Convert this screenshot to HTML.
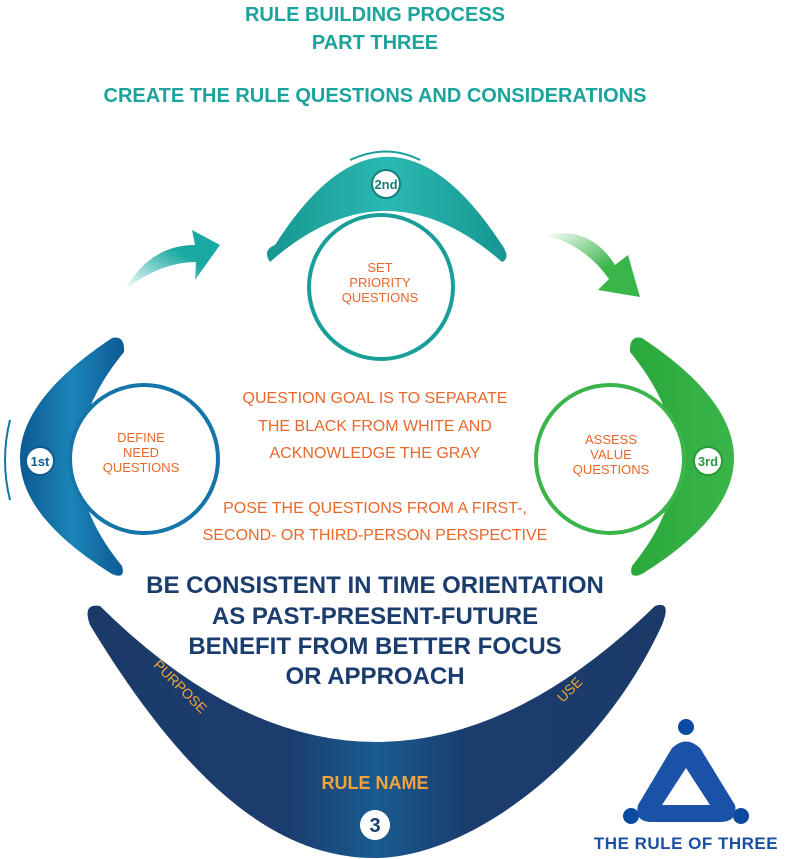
<!DOCTYPE html>
<html><head><meta charset="utf-8"><style>
body{margin:0;background:#fff}
svg{display:block}
text{font-family:"Liberation Sans",sans-serif}
</style></head><body>
<svg width="800" height="859" viewBox="0 0 800 859" xmlns="http://www.w3.org/2000/svg">
<defs>
<linearGradient id="gb" x1="0" y1="0" x2="1" y2="0"><stop offset="0" stop-color="#0d5a93"/><stop offset="0.5" stop-color="#1a84b8"/><stop offset="1" stop-color="#0d5a93"/></linearGradient>
<linearGradient id="gt" x1="0" y1="0" x2="1" y2="0"><stop offset="0" stop-color="#169690"/><stop offset="0.5" stop-color="#2bb8b2"/><stop offset="1" stop-color="#169690"/></linearGradient>
<linearGradient id="gg" x1="0" y1="0" x2="1" y2="0"><stop offset="0" stop-color="#3ab54a"/><stop offset="1" stop-color="#2aa83c"/></linearGradient>
<linearGradient id="gn" x1="0" y1="0" x2="1" y2="0"><stop offset="0" stop-color="#1b3a68"/><stop offset="0.35" stop-color="#1b3d6e"/><stop offset="0.5" stop-color="#1a5b90"/><stop offset="0.65" stop-color="#1b3d6e"/><stop offset="1" stop-color="#1b3a68"/></linearGradient>
<linearGradient id="at" x1="0" y1="1" x2="1" y2="0"><stop offset="0" stop-color="#fff"/><stop offset="0.6" stop-color="#1aa9a2"/></linearGradient>
<linearGradient id="ag" x1="0" y1="0" x2="1" y2="1"><stop offset="0" stop-color="#fff"/><stop offset="0.6" stop-color="#3ab54a"/></linearGradient>
</defs>

<text x="375" y="21" text-anchor="middle" font-size="20" font-weight="bold" fill="#1ba39c">RULE BUILDING PROCESS</text>
<text x="375" y="49" text-anchor="middle" font-size="20" font-weight="bold" fill="#1ba39c">PART THREE</text>
<text x="375" y="102" text-anchor="middle" font-size="20" font-weight="bold" fill="#1ba39c">CREATE THE RULE QUESTIONS AND CONSIDERATIONS</text>

<!-- arrows -->
<path d="M125,290 Q150,245 195,245 L192,230 L220,245 L195,280 L196,262 Q160,262 125,290 Z" fill="url(#at)"/>
<path d="M545,235 Q590,225 615,265 L628,255 L640,297 L598,290 L609,279 Q585,245 545,235 Z" fill="url(#ag)"/>

<!-- top boomerang -->
<path d="M270,262 Q262,250 275,245 Q386,70 500,242 Q512,258 502,262 Q386,160 270,262 Z" fill="url(#gt)"/>
<circle cx="381" cy="287" r="72" fill="#fff" stroke="#1a9e98" stroke-width="4"/>
<circle cx="386" cy="184" r="14" fill="#fff" stroke="#157f7a" stroke-width="2"/>
<text x="386" y="189" text-anchor="middle" font-size="13" font-weight="bold" fill="#157f7a">2nd</text>
<path d="M350,160 Q386,143 420,160" fill="none" stroke="#1a9e98" stroke-width="2"/>

<!-- left boomerang -->
<path d="M112,338 Q125,335 124,352 Q35,460 122,566 Q126,580 112,574 Q-72,460 112,338 Z" fill="url(#gb)"/>
<circle cx="144" cy="459" r="74" fill="#fff" stroke="#1575a8" stroke-width="4"/>
<circle cx="40" cy="461" r="14" fill="#fff" stroke="#0f5a90" stroke-width="2"/>
<text x="40" y="466" text-anchor="middle" font-size="13" font-weight="bold" fill="#0f5a90">1st</text>
<path d="M10,420 Q0,460 10,500" fill="none" stroke="#1575a8" stroke-width="2"/>

<!-- right boomerang -->
<g transform="translate(754,0) scale(-1,1)">
<path d="M112,338 Q125,335 124,352 Q35,460 122,566 Q126,580 112,574 Q-72,460 112,338 Z" fill="url(#gg)"/>
<circle cx="144" cy="459" r="74" fill="#fff" stroke="#3ab54a" stroke-width="4"/>
</g>
<circle cx="708" cy="461" r="14" fill="#fff" stroke="#2a9a3a" stroke-width="2"/>
<text x="708" y="466" text-anchor="middle" font-size="13" font-weight="bold" fill="#2a9a3a">3rd</text>

<g font-size="13" fill="#e8682a" text-anchor="middle">
<text x="141" y="442">DEFINE</text><text x="141" y="457">NEED</text><text x="141" y="472">QUESTIONS</text>
<text x="380" y="272">SET</text><text x="380" y="287">PRIORITY</text><text x="380" y="302">QUESTIONS</text>
<text x="611" y="444">ASSESS</text><text x="611" y="459">VALUE</text><text x="611" y="474">QUESTIONS</text>
</g>
<g font-size="16" fill="#e8682a" text-anchor="middle">
<text x="375" y="403">QUESTION GOAL IS TO SEPARATE</text>
<text x="375" y="431">THE BLACK FROM WHITE AND</text>
<text x="375" y="458">ACKNOWLEDGE THE GRAY</text>
<text x="375" y="513">POSE THE QUESTIONS FROM A FIRST-,</text>
<text x="375" y="540">SECOND- OR THIRD-PERSON PERSPECTIVE</text>
</g>

<!-- bottom boomerang -->
<path d="M100,606 Q375,878 655,606 Q672,600 662,625 C600,760 470,858 375,858 C280,858 190,790 90,625 Q82,603 100,606 Z" fill="url(#gn)"/>
<g font-size="24" font-weight="bold" fill="#1b3d6e" text-anchor="middle">
<text x="375" y="593">BE CONSISTENT IN TIME ORIENTATION</text>
<text x="375" y="624">AS PAST-PRESENT-FUTURE</text>
<text x="375" y="654">BENEFIT FROM BETTER FOCUS</text>
<text x="375" y="684">OR APPROACH</text>
</g>
<text x="177" y="690" font-size="14" fill="#f2a33a" text-anchor="middle" transform="rotate(45 177 690)">PURPOSE</text>
<text x="573" y="693" font-size="14" fill="#f2a33a" text-anchor="middle" transform="rotate(-45 573 693)">USE</text>
<text x="375" y="789" font-size="18" font-weight="bold" fill="#f2a33a" text-anchor="middle">RULE NAME</text>
<circle cx="375" cy="825" r="15" fill="#fff"/>
<text x="375" y="832" font-size="20" font-weight="bold" fill="#1b3d6e" text-anchor="middle">3</text>

<!-- logo -->
<circle cx="686" cy="727" r="8" fill="#0a4aa0"/>
<circle cx="631" cy="816" r="8" fill="#0a4aa0"/>
<circle cx="741" cy="816" r="8" fill="#0a4aa0"/>
<path d="M672,748 Q686,735 700,748 L735,805 Q738,822 720,822 L652,822 Q634,822 638,805 Z" fill="#1a52a8"/>
<path d="M686,768 L710,805 L662,805 Z" fill="#fff"/>
<text x="686" y="849" font-size="17" font-weight="bold" fill="#1a4fa0" text-anchor="middle" letter-spacing="0.5">THE RULE OF THREE</text>
</svg>
</body></html>
